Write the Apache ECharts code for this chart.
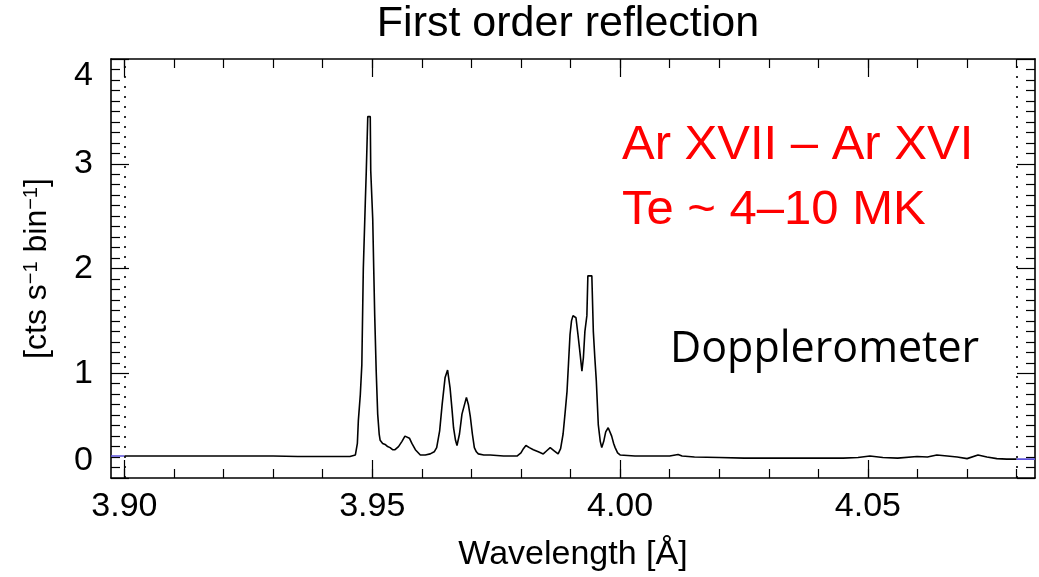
<!DOCTYPE html>
<html>
<head>
<meta charset="utf-8">
<script src="https://cdn.jsdelivr.net/npm/echarts@6/dist/echarts.min.js"></script>
<style>
html,body{margin:0;padding:0;background:#fff;}
#chart{width:1039px;height:577px;}
</style>
</head>
<body>
<div id="chart"></div>
<script>
// ---- data ----
const wavelengths = [3.900,3.905,3.910,3.915,3.920,3.925,3.930,3.935,3.940,3.9455,
 3.9466,3.9470,3.9472,3.9476,3.9479,3.9482,3.9486,3.9488,3.9491,3.9496,3.9497,3.9501,3.9503,3.9505,3.9508,3.9511,3.9514,3.9516,3.9521,3.9526,3.9531,3.9536,3.9541,3.9546,3.9553,3.9560,3.9566,3.9570,3.9575,3.9580,3.9587,3.9597,3.9607,3.9617,3.9625,3.9630,3.9636,3.9641,3.9647,3.9652,3.9657,3.9661,3.9664,3.9668,3.9671,3.9676,3.9681,3.9690,3.9694,3.9698,3.9702,3.9706,3.9710,3.9714,3.9725,3.9738,3.9765,3.9792,3.9800,3.9805,3.9810,3.9817,3.9825,3.9835,3.9845,3.9852,3.9859,3.9867,3.9875,3.9880,3.9885,3.9889,3.9893,3.9896,3.9899,3.9902,3.9905,3.9911,3.9915,3.9919,3.9923,3.9926,3.9929,3.9933,3.9935,3.9943,3.9946,3.9949,3.9952,3.9956,3.9960,3.9963,3.9967,3.9971,3.9976,3.9979,3.9983,3.9987,3.9990,3.9995,4.0000,4.003,4.007,4.010,4.0117,4.0125,4.015,4.020,4.025,4.030,4.035,4.040,4.045,4.048,4.0504,4.053,4.056,4.0599,4.062,4.0639,4.066,4.068,4.0700,4.0722,4.074,4.076,4.078,4.080];
const counts = [0.21,0.21,0.21,0.21,0.21,0.21,0.21,0.205,0.205,0.205,
 0.22,0.33,0.55,0.80,1.08,2.00,2.63,2.93,3.45,3.45,2.93,2.47,2.00,1.55,1.02,0.61,0.42,0.36,0.33,0.32,0.30,0.29,0.27,0.27,0.30,0.35,0.40,0.41,0.38,0.33,0.27,0.22,0.22,0.23,0.25,0.29,0.45,0.70,0.96,1.03,0.86,0.65,0.48,0.36,0.31,0.42,0.61,0.77,0.70,0.58,0.42,0.29,0.25,0.23,0.22,0.22,0.21,0.21,0.24,0.28,0.31,0.29,0.27,0.25,0.23,0.26,0.29,0.26,0.23,0.28,0.42,0.62,0.83,1.10,1.37,1.50,1.55,1.53,1.37,1.20,1.02,1.15,1.40,1.55,1.93,1.93,1.40,1.15,0.93,0.51,0.35,0.29,0.35,0.44,0.48,0.47,0.40,0.33,0.29,0.24,0.22,0.21,0.21,0.21,0.225,0.21,0.20,0.195,0.19,0.19,0.19,0.19,0.19,0.195,0.21,0.195,0.19,0.205,0.20,0.22,0.21,0.20,0.185,0.22,0.20,0.185,0.18,0.18];
const leftEdgeWavelengths = [3.8973, 3.900];
const leftEdgeCounts = [0.21, 0.21];
const rightEdgeWavelengths = [4.080, 4.0837];
const rightEdgeCounts = [0.18, 0.18];
const xMajorTicks = [3.90, 3.95, 4.00, 4.05];
const xTickLabels = ['3.90', '3.95', '4.00', '4.05'];
const xMinorTicks = [3.90,3.91,3.92,3.93,3.94,3.95,3.96,3.97,3.98,3.99,4.00,4.01,4.02,4.03,4.04,4.05,4.06,4.07,4.08];
const yTickLabels = ['0','1','2','3','4'];
const markerWavelengths = [3.90, 4.08];

const pairs = (xs, ys) => xs.map((x, i) => [x, ys[i]]);
const X_MIN = 3.8973, X_MAX = 4.0837;
const FONT = '"Liberation Sans", Arial, Helvetica, sans-serif';

function xAxisDef(pos, major) {
  return {
    type: 'value', position: pos, min: X_MIN, max: X_MAX,
    axisLine: { show: major, onZero: false, lineStyle: { color: '#000', width: 1.6 } },
    axisTick: { show: true, inside: true, length: major ? 18 : 9,
      customValues: major ? xMajorTicks : xMinorTicks,
      lineStyle: { color: '#000', width: 1.2 } },
    axisLabel: (major && pos === 'bottom') ? {
      show: true, customValues: xMajorTicks,
      formatter: v => xTickLabels[xMajorTicks.findIndex(t => Math.abs(t - v) < 1e-6)] || '',
      fontSize: 34, color: '#000', fontFamily: FONT, margin: 12
    } : { show: false },
    splitLine: { show: false },
    name: (major && pos === 'bottom') ? 'Wavelength [Å]' : '',
    nameLocation: 'middle', nameGap: 60,
    nameTextStyle: { fontSize: 34, color: '#000', fontFamily: FONT }
  };
}
function yAxisDef(pos) {
  const left = pos === 'left';
  return {
    type: 'value', position: pos, min: 0, max: 4, interval: 1,
    axisLine: { show: true, onZero: false, lineStyle: { color: '#000', width: 1.6 } },
    axisTick: { show: true, inside: true, length: 18, lineStyle: { color: '#000', width: 1.2 } },
    minorTick: { show: true, splitNumber: 10, length: 9, lineStyle: { color: '#000', width: 1.2 } },
    axisLabel: left ? {
      show: true, fontSize: 34, color: '#000', fontFamily: FONT, margin: 18,
      formatter: v => yTickLabels[Math.round(v)],
      verticalAlignMinLabel: 'bottom', verticalAlignMaxLabel: 'top'
    } : { show: false },
    splitLine: { show: false }, minorSplitLine: { show: false },
    name: left ? '[cts s{sup|−1} bin{sup|−1}]' : '',
    nameLocation: 'middle', nameGap: 58, nameRotate: 90,
    nameTextStyle: { fontSize: 32, color: '#000', fontFamily: FONT,
      rich: { sup: { fontSize: 20, verticalAlign: 'top', lineHeight: 32, fontFamily: FONT, color: '#000' } } }
  };
}

const chart = echarts.init(document.getElementById('chart'), null, { renderer: 'canvas' });
chart.setOption({
  animation: false,
  backgroundColor: '#fff',
  title: {
    text: 'First order reflection', left: 568, top: 3, textAlign: 'center', padding: 0,
    textStyle: { fontSize: 43, fontWeight: 'normal', color: '#000', fontFamily: FONT }
  },
  grid: { left: 111, right: 4, top: 59, bottom: 96, containLabel: false },
  xAxis: [xAxisDef('bottom', true), xAxisDef('bottom', false), xAxisDef('top', true), xAxisDef('top', false)],
  yAxis: [yAxisDef('left'), yAxisDef('right')],
  series: [
    {
      type: 'line', name: 'spectrum', xAxisIndex: 0, yAxisIndex: 0,
      data: pairs(wavelengths, counts), showSymbol: false, symbol: 'none',
      lineStyle: { color: '#000', width: 1.6 },
      markLine: {
        silent: true, symbol: ['none', 'none'], label: { show: false },
        lineStyle: { type: [2, 8], color: '#000', width: 1.6 },
        data: markerWavelengths.map(w => ({ xAxis: w }))
      }
    },
    {
      type: 'line', name: 'left', xAxisIndex: 0, yAxisIndex: 0,
      data: pairs(leftEdgeWavelengths, leftEdgeCounts), showSymbol: false, symbol: 'none',
      lineStyle: { color: '#5a50d8', width: 1.6 }
    },
    {
      type: 'line', name: 'right', xAxisIndex: 0, yAxisIndex: 0,
      data: pairs(rightEdgeWavelengths, rightEdgeCounts), showSymbol: false, symbol: 'none',
      lineStyle: { color: '#5a50d8', width: 1.6 }
    }
  ],
  graphic: [
    { type: 'text', left: 622, top: 121, silent: true,
      style: { text: 'Ar XVII – Ar XVI', fontSize: 49, fill: '#ff0000', fontFamily: FONT } },
    { type: 'text', left: 622, top: 186, silent: true,
      style: { text: 'Te ~ 4–10 MK', fontSize: 49, fill: '#ff0000', fontFamily: FONT } },
    { type: 'text', left: 670, top: 328, silent: true,
      style: { text: 'Dopplerometer', fontSize: 43, fill: '#000', fontFamily: '"Open Sans", Lato, sans-serif' } }
  ]
});
</script>
</body>
</html>
